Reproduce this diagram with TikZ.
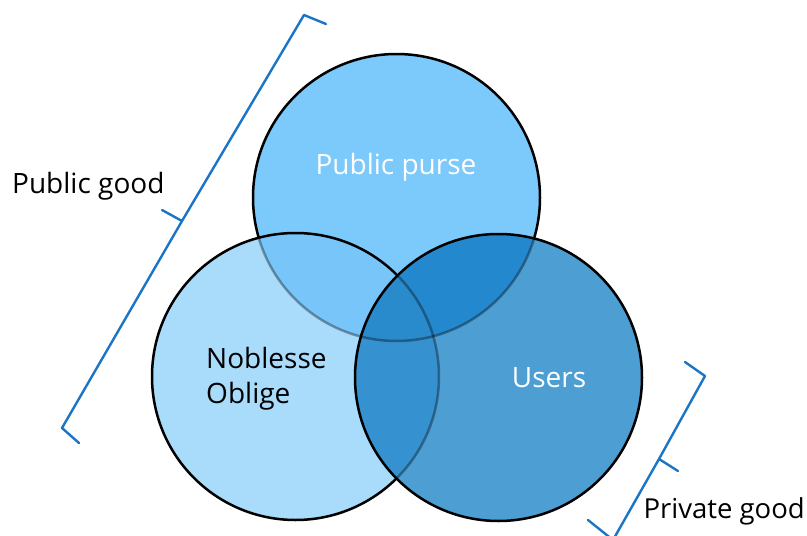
\documentclass[tikz,border=0pt]{standalone}
\usepackage{fontspec}
\setmainfont{Open Sans}
\definecolor{fillT}{HTML}{7CC9FB}
\definecolor{fillL}{HTML}{A9DBFB}
\definecolor{fillR}{HTML}{4D9ED3}
\definecolor{fillTL}{HTML}{78C5F9}
\definecolor{fillTR}{HTML}{2488CE}
\definecolor{fillLR}{HTML}{3591D0}
\definecolor{fillTLR}{HTML}{2A8BCC}
\definecolor{braceblue}{HTML}{1B75C7}
\begin{document}
\begin{tikzpicture}[x=1pt,y=-1pt,
  outline/.style={draw=black, line width=2.5pt},
  faint/.style={draw=black, draw opacity=0.35, line width=2.5pt},
  bracket/.style={draw=braceblue, line width=2.4pt, line join=round, line cap=round},
  lbl/.style={font=\fontsize{28}{34}\selectfont, inner sep=0pt}]
\useasboundingbox (0,0) rectangle (807,536);

% circle centres (common radius 143.5)
\coordinate (cT) at (396.5,197.5);
\coordinate (cL) at (295.5,376.5);
\coordinate (cR) at (498.5,377.5);

% top circle
\fill[fillT] (cT) circle (143.5);
\draw[outline] (cT) circle (143.5);

% left circle, laid over the top one
\fill[fillL] (cL) circle (143.5);
\begin{scope}
  \clip (cL) circle (143.5);
  \fill[fillTL] (cT) circle (143.5);
  \draw[faint] (cT) circle (143.5);
\end{scope}
\draw[outline] (cL) circle (143.5);

% right circle, laid over both
\fill[fillR] (cR) circle (143.5);
\begin{scope}
  \clip (cR) circle (143.5);
  \fill[fillTR] (cT) circle (143.5);
  \fill[fillLR] (cL) circle (143.5);
  \begin{scope}
    \clip (cT) circle (143.5);
    \fill[fillTLR] (cL) circle (143.5);
  \end{scope}
  \draw[faint] (cT) circle (143.5);
  \draw[faint] (cL) circle (143.5);
\end{scope}
\draw[outline] (cR) circle (143.5);

% circle labels
\node[lbl, text=white, anchor=base] (purse) at (396,174) {Public purse};
\node[lbl, anchor=base west] (noblesse) at (206,368) {Noblesse};
\node[lbl, anchor=base west] (oblige) at (206,403) {Oblige};
\node[lbl, text=white, anchor=base] (users) at (549,387) {Users};

% left bracket
\coordinate (lb1) at (326,24);
\coordinate (lb2) at (304,15);
\coordinate (lbtip) at (182,221);
\coordinate (lbtick) at (162,210);
\coordinate (lb3) at (62,428);
\coordinate (lb4) at (79,443);
\draw[bracket] (lb1) -- (lb2) -- (lbtip) -- (lb3) -- (lb4);
\draw[bracket] (lbtip) -- (lbtick);
\node[lbl, anchor=base west] (pubgood) at (12,193) {Public good};

% right bracket
\coordinate (rb1) at (685,362);
\coordinate (rb2) at (705,376);
\coordinate (rbtip) at (659,459);
\coordinate (rbtick) at (678,471);
\coordinate (rb3) at (613,540);
\coordinate (rb4) at (588,520);
\draw[bracket] (rb1) -- (rb2) -- (rbtip) -- (rb3) -- (rb4);
\draw[bracket] (rbtip) -- (rbtick);
\node[lbl, font=\fontsize{27.5}{34}\selectfont, anchor=base east] (privgood) at (805,518) {Private good};
\end{tikzpicture}
\end{document}
